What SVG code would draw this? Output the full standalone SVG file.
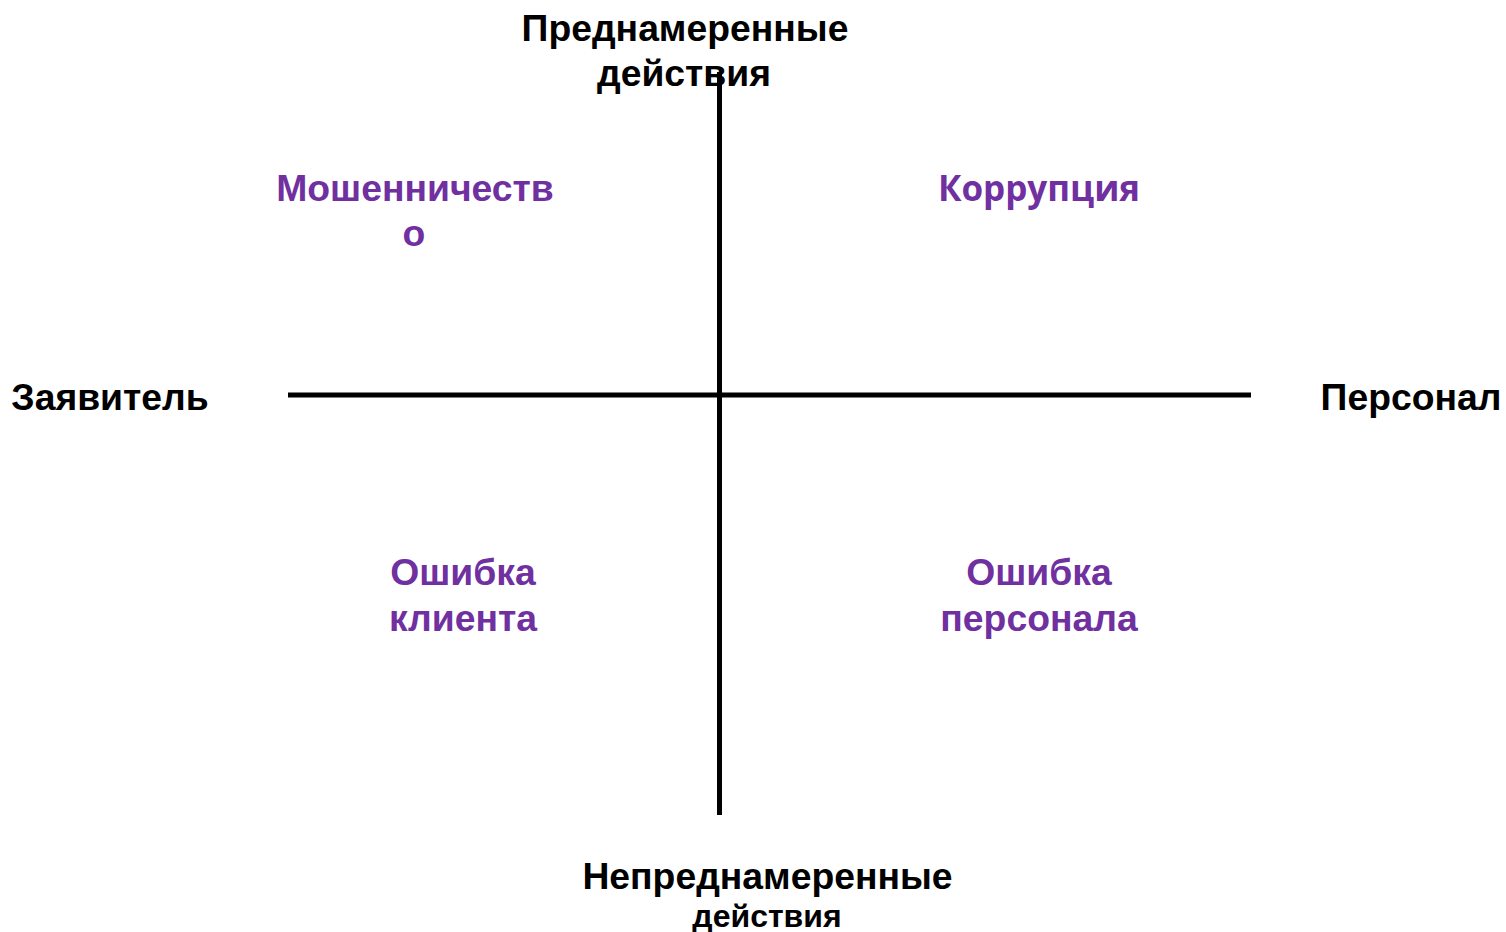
<svg xmlns="http://www.w3.org/2000/svg" width="1506" height="932" viewBox="0 0 1506 932">
  <style>
    .axis { font-family: "Liberation Sans", Arial, sans-serif; font-weight: bold; fill: #000; text-anchor: middle; }
    .q { font-family: "Liberation Sans", Arial, sans-serif; font-weight: bold; font-size: 37.3px; fill: #7030A0; text-anchor: middle; }
    .line { stroke: #000; stroke-width: 5; fill: none; }
  </style>
  <rect width="1506" height="932" fill="#fff"/>
  <g id="connectors">
    <line class="line" x1="719.5" y1="72" x2="719.5" y2="815"/>
    <line class="line" x1="288" y1="395" x2="1251" y2="395"/>
  </g>
  <g id="top-label">
    <text class="axis" x="685" y="41" font-size="37.3">Преднамеренные</text>
    <text class="axis" x="684" y="86" font-size="37.3">действия</text>
  </g>
  <g id="bottom-label">
    <text class="axis" x="767.5" y="889" font-size="37.3">Непреднамеренные</text>
    <text class="axis" x="767" y="927" font-size="32">действия</text>
  </g>
  <g id="left-label">
    <text class="axis" x="110" y="410" font-size="37.3">Заявитель</text>
  </g>
  <g id="right-label">
    <text class="axis" x="1411" y="410" font-size="37.3">Персонал</text>
  </g>
  <g id="fraud">
    <text class="q" x="415" y="201">Мошенничеств</text>
    <text class="q" x="414" y="246">о</text>
  </g>
  <g id="corruption">
    <text class="q" x="1039" y="201" style="font-family: 'Open Sans', sans-serif; font-size: 35px;">Коррупция</text>
  </g>
  <g id="client-error">
    <text class="q" x="463" y="585">Ошибка</text>
    <text class="q" x="463" y="631">клиента</text>
  </g>
  <g id="staff-error">
    <text class="q" x="1039" y="585">Ошибка</text>
    <text class="q" x="1039" y="631">персонала</text>
  </g>
</svg>
